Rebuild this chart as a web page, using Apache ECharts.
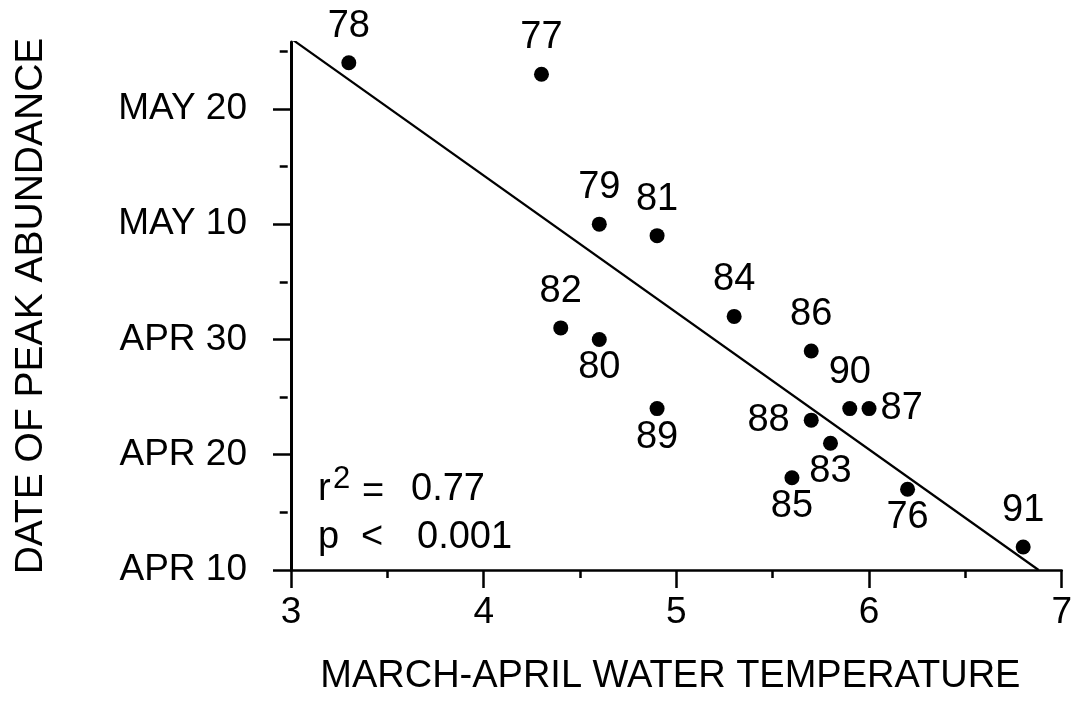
<!DOCTYPE html>
<html><head><meta charset="utf-8">
<script src="https://cdn.jsdelivr.net/npm/echarts@6/dist/echarts.min.js"></script>
<style>html,body{margin:0;padding:0;background:#fff}#c{width:1075px;height:701px}</style>
</head><body><div id="c"></div>
<script>
// ---- data ----
const years = ['76','77','78','79','80','81','82','83','84','85','86','87','88','89','90','91'];
const waterTemp = [6.2, 4.3, 3.3, 4.6, 4.6, 4.9, 4.4, 5.8, 5.3, 5.6, 5.7, 6.0, 5.7, 4.9, 5.9, 6.8];
const peakDay = [7, 43, 44, 30, 20, 29, 21, 11, 22, 8, 19, 14, 13, 14, 14, 2]; // days after APR 10
const labelSide = ['bottom','top','top','top','bottom','top','top','bottom','top','bottom','top','right','left','bottom','top','top'];
const yTickValues = [0, 10, 20, 30, 40];
const yTickLabels = ['APR 10', 'APR 20', 'APR 30', 'MAY 10', 'MAY 20'];
const yMinorValues = [5, 15, 25, 35, 45];
const xTickLabels = ['3', '4', '5', '6', '7'];
const fitX = [3.0, 6.88];
const fitY = [46.1, 0];
const statR2 = '0.77';
const statP = '0.001';

// ---- presentation ----
const FONT = '"Liberation Sans", Arial, Helvetica, sans-serif';
const labelDist = { top: 10, bottom: 2, left: 14, right: 4 };
const gridLeft = 291, gridRight = 10, gridTop = 42, gridBottom = 131;
const gridW = 1075 - gridLeft - gridRight;

const chart = echarts.init(document.getElementById('c'), null, { renderer: 'canvas' });

const pts = years.map((y, i) => ({
  name: y,
  value: [waterTemp[i], peakDay[i]],
  label: { position: labelSide[i], distance: labelDist[labelSide[i]] }
}));

const txt = (t, x, y, size) => ({
  type: 'text', x: x, y: y, z: 100,
  style: { text: t, font: size + 'px ' + FONT, fill: '#000', align: 'left', verticalAlign: 'middle' }
});

chart.setOption({
  animation: false,
  backgroundColor: '#fff',
  grid: { left: gridLeft, right: gridRight, top: gridTop, bottom: gridBottom, containLabel: false },
  xAxis: {
    type: 'value', min: 3, max: 7, interval: 1,
    name: 'MARCH-APRIL WATER TEMPERATURE', nameLocation: 'middle', nameGap: 88,
    nameTextStyle: { fontSize: 38, color: '#000', fontFamily: FONT, padding: [0, 12, 0, 0] },
    axisLine: { show: true, onZero: false, lineStyle: { color: '#000', width: 2.5 } },
    axisTick: { show: true, length: 18, lineStyle: { color: '#000', width: 2.5 } },
    minorTick: { show: true, splitNumber: 2, length: 8, lineStyle: { color: '#000', width: 2.5 } },
    axisLabel: { fontSize: 37, color: '#000', fontFamily: FONT, margin: 24,
      formatter: v => xTickLabels[Math.round(v - 3)] },
    splitLine: { show: false }
  },
  yAxis: [{
    type: 'value', min: 0, max: 45.8, position: 'left',
    name: 'DATE OF PEAK ABUNDANCE', nameLocation: 'middle', nameGap: 240, nameRotate: 90,
    nameTextStyle: { fontSize: 39, color: '#000', fontFamily: FONT },
    axisLine: { show: true, onZero: false, lineStyle: { color: '#000', width: 3 } },
    axisTick: { show: true, length: 18, customValues: yTickValues, lineStyle: { color: '#000', width: 2.5 } },
    axisLabel: { fontSize: 37, color: '#000', fontFamily: FONT, margin: 44, customValues: yTickValues,
      formatter: v => yTickLabels[yTickValues.indexOf(Math.round(v))] || '' },
    splitLine: { show: false }
  }, {
    type: 'value', min: 0, max: 45.8, position: 'right', offset: -gridW,
    axisLine: { show: false },
    axisTick: { show: true, inside: true, length: 8, customValues: yMinorValues, lineStyle: { color: '#000', width: 2.5 } },
    axisLabel: { show: false },
    splitLine: { show: false }
  }],
  series: [{
    type: 'line', yAxisIndex: 0, z: 2,
    data: fitX.map((x, i) => [x, fitY[i]]),
    symbol: 'none', clip: true,
    lineStyle: { color: '#000', width: 2.2 }
  }, {
    type: 'scatter', yAxisIndex: 0, z: 3,
    data: pts, symbol: 'circle', symbolSize: 15,
    itemStyle: { color: '#000', opacity: 1 },
    label: { show: true, formatter: '{b}', fontSize: 38, color: '#000', opacity: 1, fontFamily: FONT }
  }],
  graphic: [
    txt('r', 318, 490, 38),
    txt('2', 333, 479, 31),
    txt('=', 362, 493, 38),
    txt(statR2, 411, 490, 38),
    txt('p', 318, 538, 38),
    txt('<', 361, 538, 38),
    txt(statP, 417, 538, 38)
  ]
});
</script></body></html>
